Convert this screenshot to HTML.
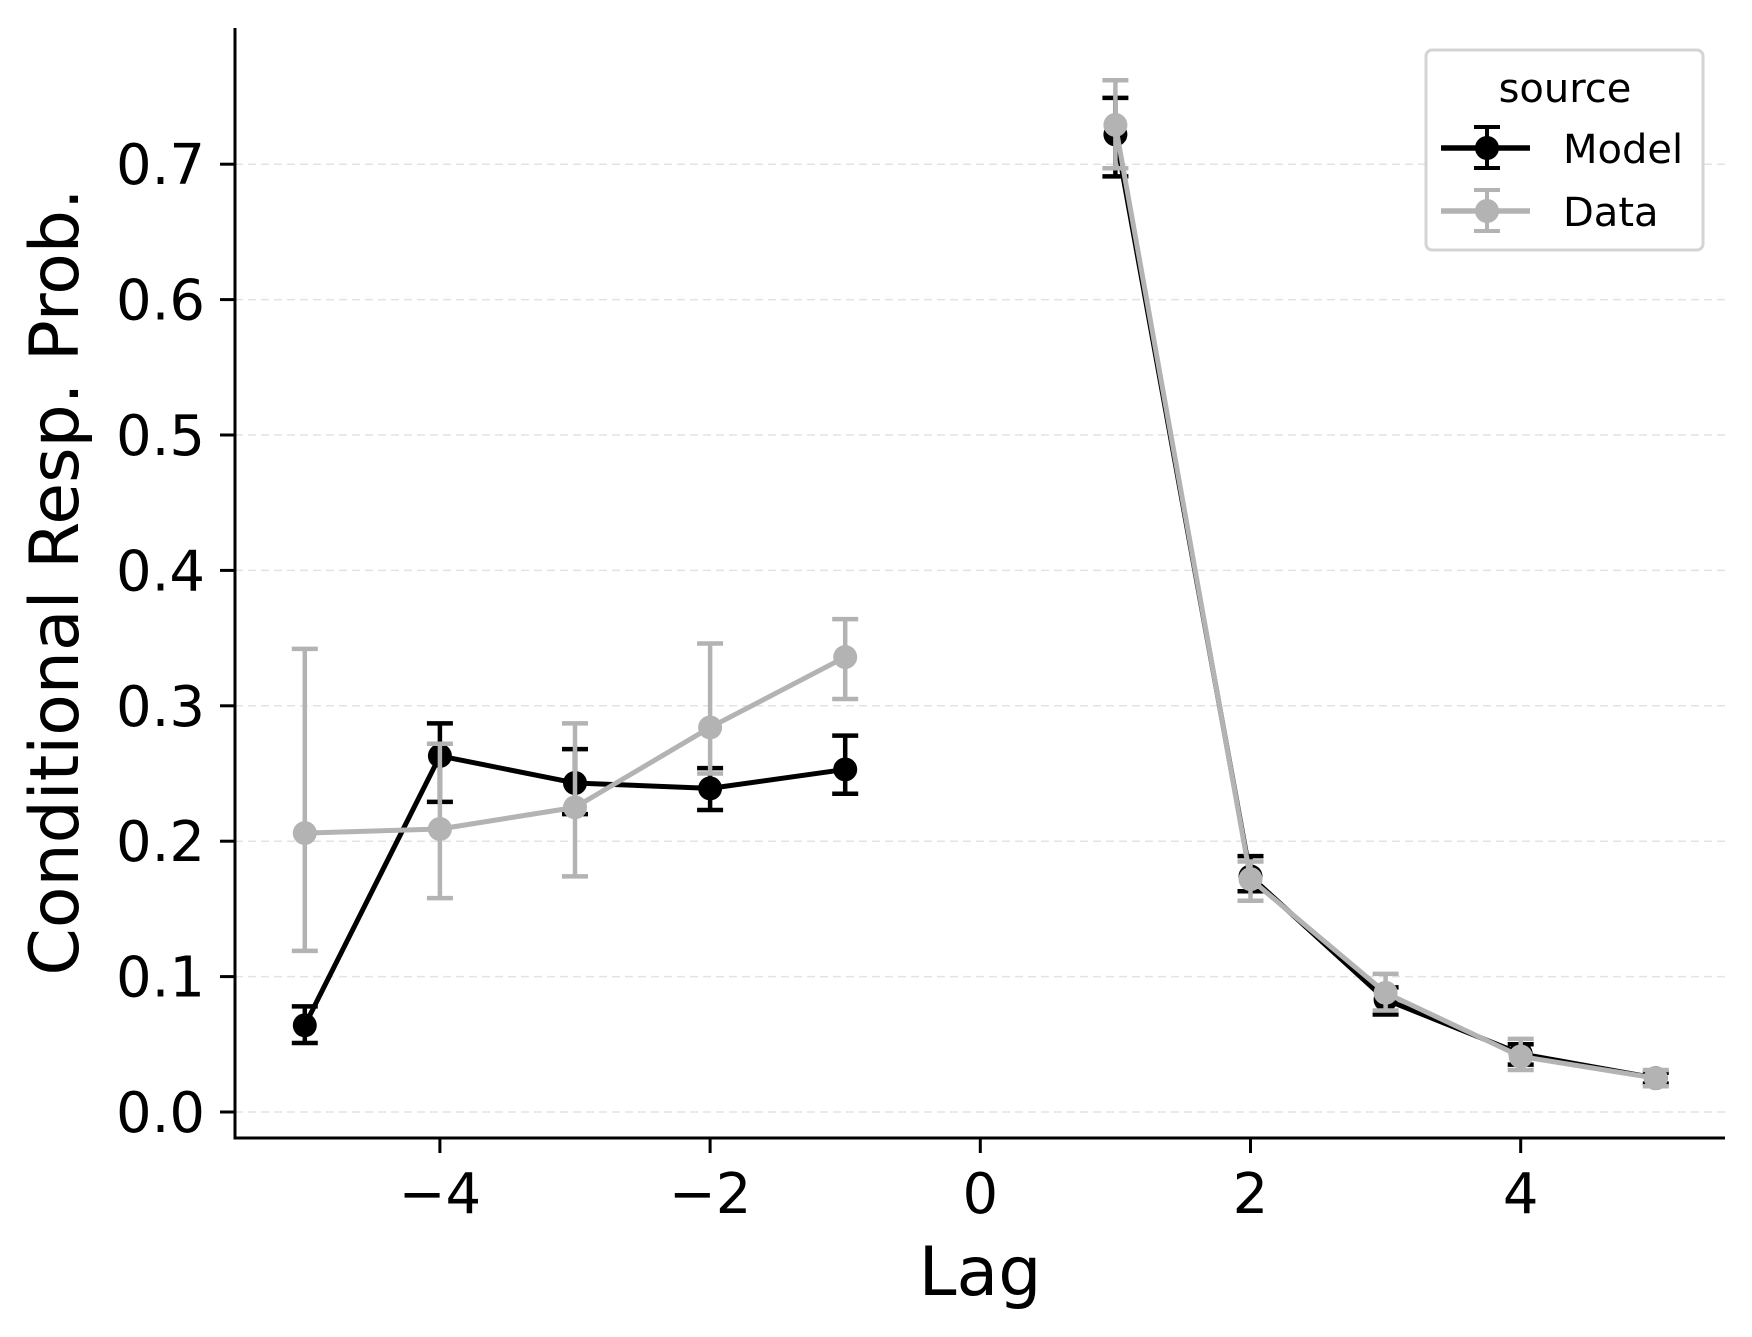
<!DOCTYPE html>
<html><head><meta charset="utf-8"><style>
html,body{margin:0;padding:0;background:#fff;}
svg{display:block;font-family:"DejaVu Sans","Liberation Sans",sans-serif;}
</style></head><body>
<svg id="chart" width="1752" height="1337" viewBox="0 0 1752 1337" xmlns="http://www.w3.org/2000/svg">
<g id="grid"></g>
<g id="axes"></g>
<g id="series"></g>
<text x="980" y="1295" font-size="68" text-anchor="middle">Lag</text>
<text transform="translate(78,582) rotate(-90)" font-size="68" text-anchor="middle">Conditional Resp. Prob.</text>
<g>
<rect x="1426" y="50" width="277" height="200" rx="6" fill="#fff" stroke="#d4d4d4" stroke-width="3"/>
<text x="1565" y="102" font-size="40" text-anchor="middle">source</text>
<g>
<line x1="1441" y1="148" x2="1530" y2="148" stroke="#000" stroke-width="5.5"/>
<line x1="1487" y1="127" x2="1487" y2="168" stroke="#000" stroke-width="4"/>
<line x1="1474" y1="127" x2="1500" y2="127" stroke="#000" stroke-width="4"/>
<line x1="1474" y1="168" x2="1500" y2="168" stroke="#000" stroke-width="4"/>
<circle cx="1487" cy="148" r="12" fill="#000"/>
<text x="1563" y="163" font-size="40">Model</text>
</g>
<g>
<line x1="1441" y1="211" x2="1530" y2="211" stroke="#b3b3b3" stroke-width="5.5"/>
<line x1="1487" y1="190" x2="1487" y2="231" stroke="#b3b3b3" stroke-width="4"/>
<line x1="1474" y1="190" x2="1500" y2="190" stroke="#b3b3b3" stroke-width="4"/>
<line x1="1474" y1="231" x2="1500" y2="231" stroke="#b3b3b3" stroke-width="4"/>
<circle cx="1487" cy="211" r="12" fill="#b3b3b3"/>
<text x="1563" y="226" font-size="40">Data</text>
</g>
</g>
</svg>
<script>
const lags = [-5,-4,-3,-2,-1,1,2,3,4,5];
const modelVals = [0.064,0.263,0.243,0.239,0.253,0.722,0.174,0.083,0.043,0.025];
const modelLo = [0.051,0.229,0.220,0.223,0.235,0.691,0.163,0.072,0.035,0.021];
const modelHi = [0.078,0.287,0.268,0.254,0.278,0.749,0.189,0.092,0.050,0.029];
const dataVals = [0.206,0.209,0.225,0.284,0.336,0.729,0.172,0.088,0.041,0.025];
const dataLo = [0.119,0.158,0.174,0.250,0.305,0.697,0.156,0.075,0.031,0.019];
const dataHi = [0.342,0.272,0.287,0.346,0.364,0.762,0.185,0.102,0.054,0.031];
const xTicks = [-4,-2,0,2,4];
const yTicks = [0.0,0.1,0.2,0.3,0.4,0.5,0.6,0.7];

const NS="http://www.w3.org/2000/svg";
const X0=980.3, XS=135.1, Y0=1112, YS=1354;
const L=235, R=1725, T=28, B=1138;
function xs(v){return X0+v*XS;}
function ys(v){return Y0-v*YS;}
function mk(tag,attrs,parent){const e=document.createElementNS(NS,tag);for(const k in attrs)e.setAttribute(k,attrs[k]);parent.appendChild(e);return e;}
const grid=document.getElementById('grid'), axes=document.getElementById('axes'), ser=document.getElementById('series');

yTicks.forEach(t=>{
  const g=mk('line',{x1:L,x2:R,y1:ys(t),y2:ys(t),stroke:'#e3e3e3','stroke-width':1.5,'stroke-dasharray':'8,5'},grid);
  
  
  const tk=mk('line',{x1:L-15,x2:L,y1:ys(t),y2:ys(t),stroke:'#000','stroke-width':3},axes);
  
  
  const tx=mk('text',{x:L-30,y:ys(t)+20,'font-size':56,'text-anchor':'end'},axes);
  
  
  tx.textContent=t.toFixed(1);
});
xTicks.forEach(t=>{
  const tk=mk('line',{x1:xs(t),x2:xs(t),y1:B,y2:B+15,stroke:'#000','stroke-width':3},axes);
  
  
  const tx=mk('text',{x:xs(t),y:1213,'font-size':56,'text-anchor':'middle'},axes);
  
  
  tx.textContent=(t<0?'\u2212':'')+Math.abs(t);
});
const ya=mk('line',{x1:L,x2:L,y1:T,y2:B+1.5,stroke:'#000','stroke-width':3},axes);


const xa=mk('line',{x1:L-1.5,x2:R,y1:B,y2:B,stroke:'#000','stroke-width':3},axes);



function drawSeries(vals,lo,hi,color,name){
  const g=mk('g',{},ser);
  
  
  [[0,5],[5,10]].forEach(([a,b])=>{
    const pts=[];for(let i=a;i<b;i++)pts.push(xs(lags[i])+','+ys(vals[i]));
    const pl=mk('polyline',{points:pts.join(' '),fill:'none',stroke:color,'stroke-width':5,'stroke-linejoin':'round'},g);
    
    
  });
  lags.forEach((l,i)=>{
    const x=xs(l);
    const eb=mk('g',{stroke:color,'stroke-width':4.5},g);
    
    
    mk('line',{x1:x,x2:x,y1:ys(lo[i]),y2:ys(hi[i])},eb);
    mk('line',{x1:x-13,x2:x+13,y1:ys(lo[i]),y2:ys(lo[i])},eb);
    mk('line',{x1:x-13,x2:x+13,y1:ys(hi[i]),y2:ys(hi[i])},eb);
    const c=mk('circle',{cx:x,cy:ys(vals[i]),r:12,fill:color},g);
    
    
  });
}
drawSeries(modelVals,modelLo,modelHi,'#000','model');
drawSeries(dataVals,dataLo,dataHi,'#b3b3b3','data');
</script>
</body></html>
